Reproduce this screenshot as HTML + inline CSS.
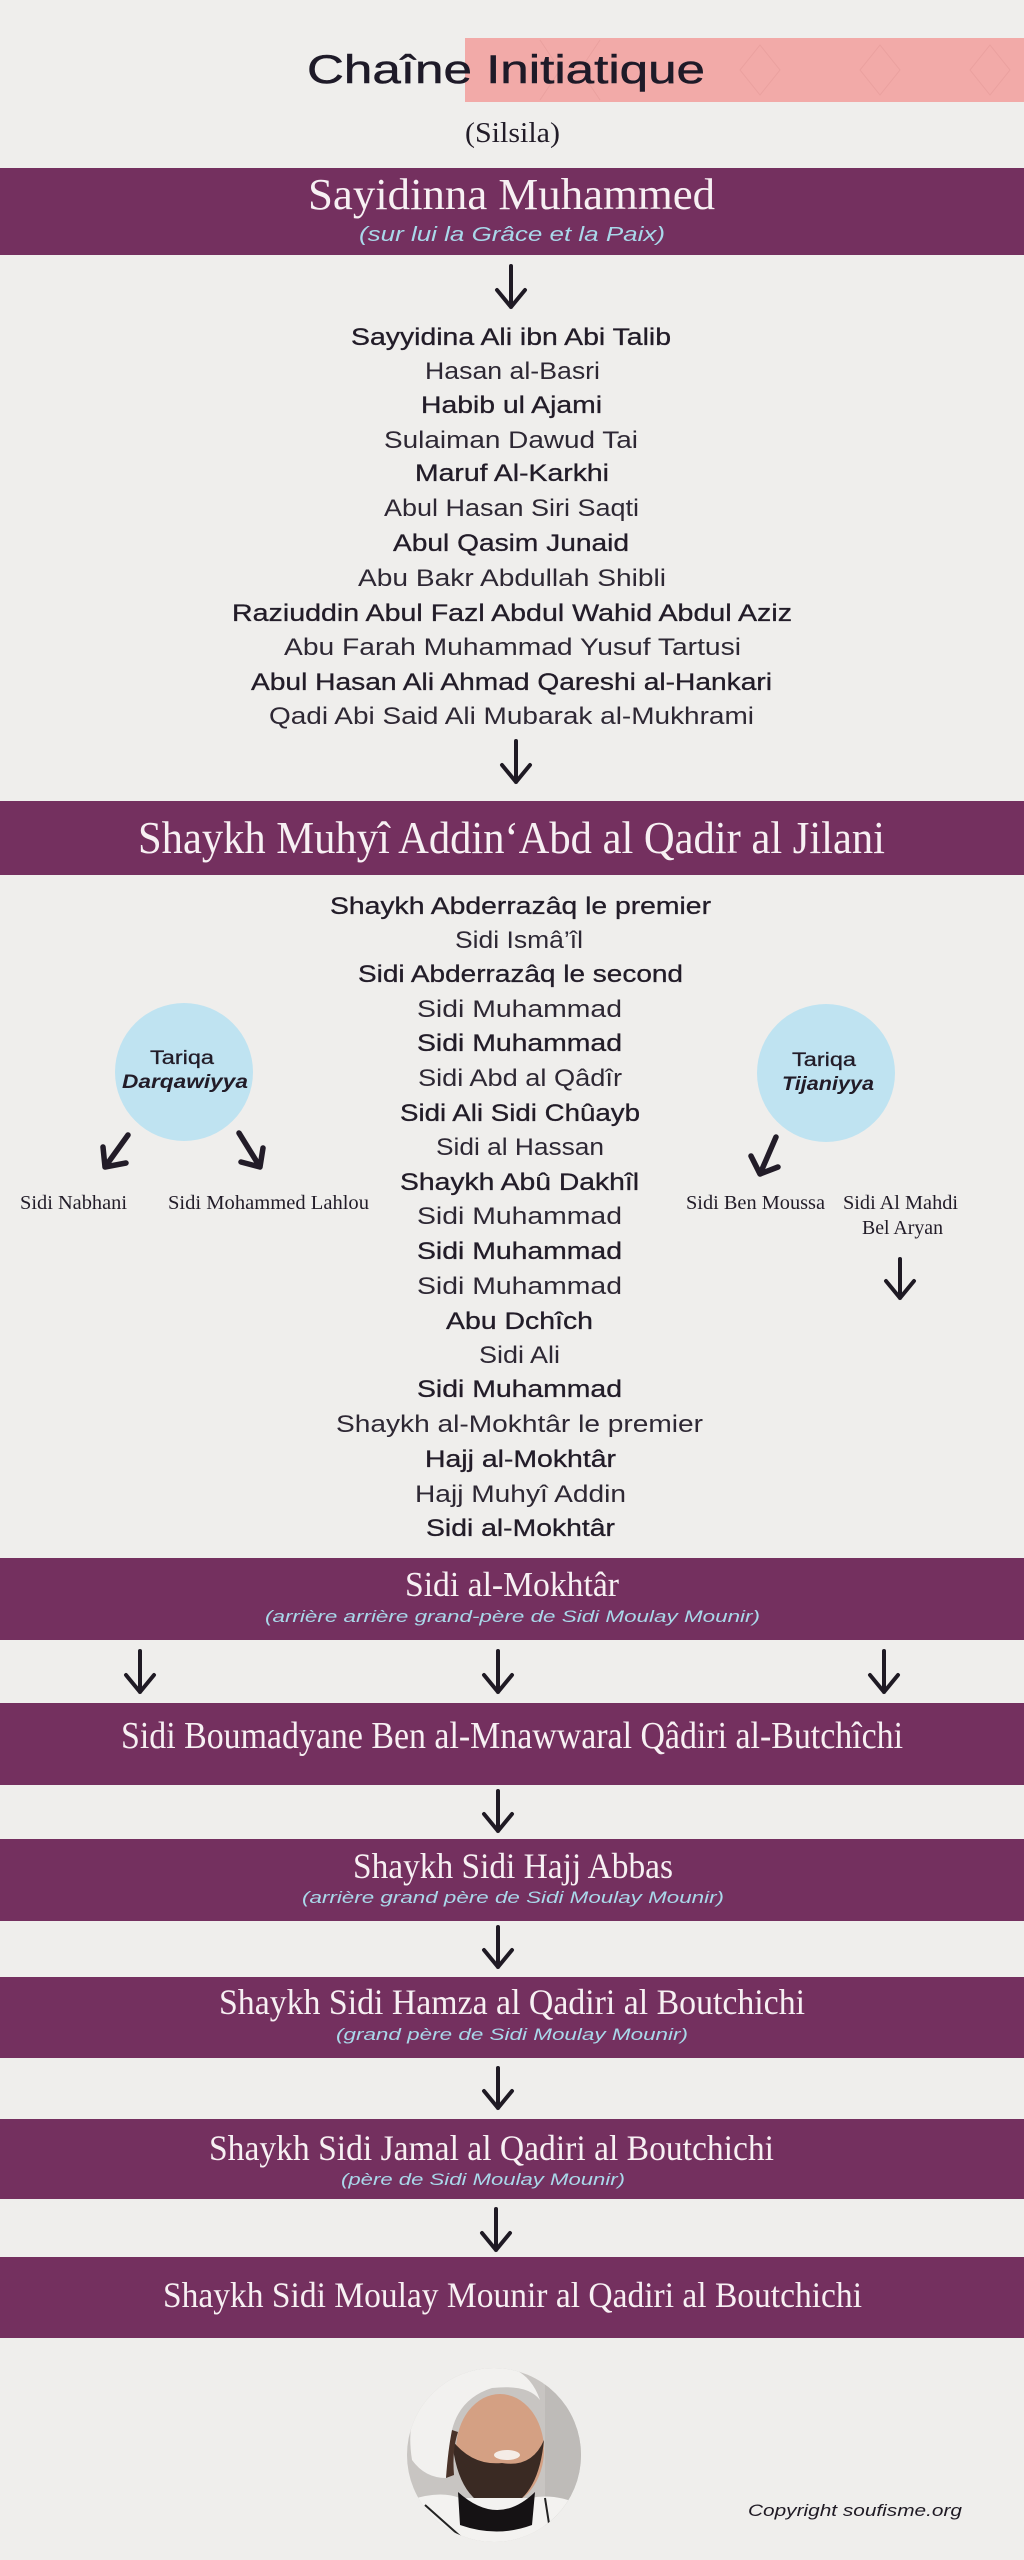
<!DOCTYPE html>
<html><head><meta charset="utf-8"><style>
html,body{margin:0;padding:0;background:#efeeec;}
svg{display:block;}
.s{font-family:"Liberation Sans",sans-serif;font-size:24px;fill:#221c28;}
.m{stroke:#221c28;stroke-width:0.3px;}
.l{fill:#2e2834;}
.t{font-family:"Liberation Serif",serif;fill:#f7f0f3;}
.sub{font-family:"Liberation Sans",sans-serif;font-style:italic;fill:#a9d8ea;}
.br{font-family:"Liberation Serif",serif;font-size:20px;fill:#221c28;}
.ar{fill:none;stroke:#1f1a24;stroke-width:4;stroke-linecap:round;stroke-linejoin:round;}
.ad{fill:none;stroke:#221c28;stroke-width:5.5;stroke-linecap:round;stroke-linejoin:round;}
</style></head><body>
<svg width="1024" height="2560" viewBox="0 0 1024 2560" xmlns="http://www.w3.org/2000/svg">
<rect width="1024" height="2560" fill="#efeeec"/>
<!-- title -->
<rect x="465" y="38" width="559" height="64" fill="#f2aaa8"/>
<g fill="none" stroke="#e79c9b" stroke-width="1" opacity="0.7">
<path d="M540 40 L560 70 L540 100 M600 40 L580 70 L600 100 M760 45 l20 25 l-20 25 l-20 -25z M880 45 l20 25 l-20 25 l-20 -25z M990 45 l20 25 l-20 25 l-20 -25z"/>
</g>
<text x="307" y="83" font-family="Liberation Sans,sans-serif" font-size="40" fill="#1e1a28" stroke="#1e1a28" stroke-width="0.5" textLength="398" lengthAdjust="spacingAndGlyphs">Chaîne Initiatique</text>
<text x="465" y="142" font-family="Liberation Serif,serif" font-size="29" fill="#221c28" textLength="95" lengthAdjust="spacingAndGlyphs">(Silsila)</text>

<!-- band 1 -->
<rect x="0" y="168" width="1024" height="87" fill="#74305f"/>
<text class="t" x="308" y="209" font-size="44" textLength="407" lengthAdjust="spacingAndGlyphs">Sayidinna Muhammed</text>
<text class="sub" x="359" y="241" font-size="20" textLength="306" lengthAdjust="spacingAndGlyphs">(sur lui la Grâce et la Paix)</text>

<path class="ar" d="M511 266 L511 307 M497 290 L511 307 L525 290"/>

<g class="s">
<text class="m" x="351" y="345" textLength="320" lengthAdjust="spacingAndGlyphs">Sayyidina Ali ibn Abi Talib</text>
<text class="l" x="425" y="379" textLength="175" lengthAdjust="spacingAndGlyphs">Hasan al-Basri</text>
<text class="m" x="421" y="413" textLength="181" lengthAdjust="spacingAndGlyphs">Habib ul Ajami</text>
<text class="l" x="384" y="448" textLength="254" lengthAdjust="spacingAndGlyphs">Sulaiman Dawud Tai</text>
<text class="m" x="415" y="481" textLength="194" lengthAdjust="spacingAndGlyphs">Maruf Al-Karkhi</text>
<text class="l" x="384" y="516" textLength="255" lengthAdjust="spacingAndGlyphs">Abul Hasan Siri Saqti</text>
<text class="m" x="393" y="551" textLength="236" lengthAdjust="spacingAndGlyphs">Abul Qasim Junaid</text>
<text class="l" x="358" y="586" textLength="308" lengthAdjust="spacingAndGlyphs">Abu Bakr Abdullah Shibli</text>
<text class="m" x="232" y="621" textLength="560" lengthAdjust="spacingAndGlyphs">Raziuddin Abul Fazl Abdul Wahid Abdul Aziz</text>
<text class="l" x="284" y="655" textLength="457" lengthAdjust="spacingAndGlyphs">Abu Farah Muhammad Yusuf Tartusi</text>
<text class="m" x="251" y="690" textLength="521" lengthAdjust="spacingAndGlyphs">Abul Hasan Ali Ahmad Qareshi al-Hankari</text>
<text class="l" x="269" y="724" textLength="485" lengthAdjust="spacingAndGlyphs">Qadi Abi Said Ali Mubarak al-Mukhrami</text>
</g>

<path class="ar" d="M516 741 L516 782 M502 765 L516 782 L530 765"/>

<!-- band 2 -->
<rect x="0" y="801" width="1024" height="74" fill="#74305f"/>
<text class="t" x="138" y="853" font-size="46" textLength="747" lengthAdjust="spacingAndGlyphs">Shaykh Muhyî Addin‘Abd al Qadir al Jilani</text>

<g class="s">
<text class="m" x="330" y="914" textLength="381" lengthAdjust="spacingAndGlyphs">Shaykh Abderrazâq le premier</text>
<text class="l" x="455" y="948" textLength="128" lengthAdjust="spacingAndGlyphs">Sidi Ismâ’îl</text>
<text class="m" x="358" y="982" textLength="325" lengthAdjust="spacingAndGlyphs">Sidi Abderrazâq le second</text>
<text class="l" x="417" y="1017" textLength="205" lengthAdjust="spacingAndGlyphs">Sidi Muhammad</text>
<text class="m" x="417" y="1051" textLength="205" lengthAdjust="spacingAndGlyphs">Sidi Muhammad</text>
<text class="l" x="418" y="1086" textLength="204" lengthAdjust="spacingAndGlyphs">Sidi Abd al Qâdîr</text>
<text class="m" x="400" y="1121" textLength="240" lengthAdjust="spacingAndGlyphs">Sidi Ali Sidi Chûayb</text>
<text class="l" x="436" y="1155" textLength="168" lengthAdjust="spacingAndGlyphs">Sidi al Hassan</text>
<text class="m" x="400" y="1190" textLength="239" lengthAdjust="spacingAndGlyphs">Shaykh Abû Dakhîl</text>
<text class="l" x="417" y="1224" textLength="205" lengthAdjust="spacingAndGlyphs">Sidi Muhammad</text>
<text class="m" x="417" y="1259" textLength="205" lengthAdjust="spacingAndGlyphs">Sidi Muhammad</text>
<text class="l" x="417" y="1294" textLength="205" lengthAdjust="spacingAndGlyphs">Sidi Muhammad</text>
<text class="m" x="446" y="1329" textLength="147" lengthAdjust="spacingAndGlyphs">Abu Dchîch</text>
<text class="l" x="479" y="1363" textLength="81" lengthAdjust="spacingAndGlyphs">Sidi Ali</text>
<text class="m" x="417" y="1397" textLength="205" lengthAdjust="spacingAndGlyphs">Sidi Muhammad</text>
<text class="l" x="336" y="1432" textLength="367" lengthAdjust="spacingAndGlyphs">Shaykh al-Mokhtâr le premier</text>
<text class="m" x="425" y="1467" textLength="191" lengthAdjust="spacingAndGlyphs">Hajj al-Mokhtâr</text>
<text class="l" x="415" y="1502" textLength="211" lengthAdjust="spacingAndGlyphs">Hajj Muhyî Addin</text>
<text class="m" x="426" y="1536" textLength="189" lengthAdjust="spacingAndGlyphs">Sidi al-Mokhtâr</text>
</g>

<!-- left circle -->
<circle cx="184" cy="1072" r="69" fill="#bfe3f1"/>
<text x="150" y="1064" font-family="Liberation Sans,sans-serif" font-size="19" fill="#221c28" stroke="#221c28" stroke-width="0.3" textLength="64" lengthAdjust="spacingAndGlyphs">Tariqa</text>
<text x="122" y="1088" font-family="Liberation Sans,sans-serif" font-size="19" font-style="italic" font-weight="bold" fill="#221c28" textLength="126" lengthAdjust="spacingAndGlyphs">Darqawiyya</text>
<path class="ad" d="M128 1135 L105 1167 M103 1147 L105 1167 L126 1163"/>
<path class="ad" d="M239 1133 L260 1167 M263 1148 L260 1167 L241 1162"/>
<text class="br" x="20" y="1209" textLength="107" lengthAdjust="spacingAndGlyphs">Sidi Nabhani</text>
<text class="br" x="168" y="1209" textLength="201" lengthAdjust="spacingAndGlyphs">Sidi Mohammed Lahlou</text>

<!-- right circle -->
<circle cx="826" cy="1073" r="69" fill="#bfe3f1"/>
<text x="792" y="1066" font-family="Liberation Sans,sans-serif" font-size="19" fill="#221c28" stroke="#221c28" stroke-width="0.3" textLength="64" lengthAdjust="spacingAndGlyphs">Tariqa</text>
<text x="782" y="1090" font-family="Liberation Sans,sans-serif" font-size="19" font-style="italic" font-weight="bold" fill="#221c28" textLength="92" lengthAdjust="spacingAndGlyphs">Tijaniyya</text>
<path class="ad" d="M776 1137 L760 1174 M751 1156 L760 1174 L778 1167"/>
<text class="br" x="686" y="1209" textLength="139" lengthAdjust="spacingAndGlyphs">Sidi Ben Moussa</text>
<text class="br" x="843" y="1209" textLength="115" lengthAdjust="spacingAndGlyphs">Sidi Al  Mahdi</text>
<text class="br" x="862" y="1234" textLength="81" lengthAdjust="spacingAndGlyphs">Bel Aryan</text>
<path class="ar" d="M900 1259 L900 1298 M886 1281 L900 1298 L914 1281"/>

<!-- band 3 -->
<rect x="0" y="1558" width="1024" height="82" fill="#74305f"/>
<text class="t" x="405" y="1596" font-size="35" textLength="214" lengthAdjust="spacingAndGlyphs">Sidi al-Mokhtâr</text>
<text class="sub" x="265" y="1622" font-size="17" textLength="495" lengthAdjust="spacingAndGlyphs">(arrière arrière grand-père de Sidi Moulay Mounir)</text>

<path class="ar" d="M140 1651 L140 1692 M126 1675 L140 1692 L154 1675"/>
<path class="ar" d="M498 1651 L498 1692 M484 1675 L498 1692 L512 1675"/>
<path class="ar" d="M884 1651 L884 1692 M870 1675 L884 1692 L898 1675"/>

<!-- band 4 -->
<rect x="0" y="1703" width="1024" height="82" fill="#74305f"/>
<text class="t" x="121" y="1748" font-size="38" textLength="782" lengthAdjust="spacingAndGlyphs">Sidi Boumadyane Ben al-Mnawwaral Qâdiri al-Butchîchi</text>

<path class="ar" d="M498 1791 L498 1831 M484 1814 L498 1831 L512 1814"/>

<!-- band 5 -->
<rect x="0" y="1839" width="1024" height="82" fill="#74305f"/>
<text class="t" x="353" y="1878" font-size="36" textLength="320" lengthAdjust="spacingAndGlyphs">Shaykh Sidi Hajj Abbas</text>
<text class="sub" x="302" y="1903" font-size="17" textLength="422" lengthAdjust="spacingAndGlyphs">(arrière grand père de Sidi Moulay Mounir)</text>

<path class="ar" d="M498 1927 L498 1967 M484 1950 L498 1967 L512 1950"/>

<!-- band 6 -->
<rect x="0" y="1977" width="1024" height="81" fill="#74305f"/>
<text class="t" x="219" y="2014" font-size="36" textLength="586" lengthAdjust="spacingAndGlyphs">Shaykh Sidi Hamza al Qadiri al Boutchichi</text>
<text class="sub" x="336" y="2040" font-size="17" textLength="352" lengthAdjust="spacingAndGlyphs">(grand père de Sidi Moulay Mounir)</text>

<path class="ar" d="M498 2068 L498 2108 M484 2091 L498 2108 L512 2091"/>

<!-- band 7 -->
<rect x="0" y="2119" width="1024" height="80" fill="#74305f"/>
<text class="t" x="209" y="2160" font-size="36" textLength="565" lengthAdjust="spacingAndGlyphs">Shaykh Sidi Jamal al Qadiri al Boutchichi</text>
<text class="sub" x="341" y="2185" font-size="17" textLength="284" lengthAdjust="spacingAndGlyphs">(père de Sidi Moulay Mounir)</text>

<path class="ar" d="M496 2209 L496 2250 M482 2233 L496 2250 L510 2233"/>

<!-- band 8 -->
<rect x="0" y="2257" width="1024" height="81" fill="#74305f"/>
<text class="t" x="163" y="2307" font-size="36" textLength="699" lengthAdjust="spacingAndGlyphs">Shaykh Sidi Moulay Mounir al Qadiri al Boutchichi</text>

<!-- photo -->
<defs><clipPath id="pc"><circle cx="494" cy="2455" r="87"/></clipPath></defs>
<g clip-path="url(#pc)">
<rect x="400" y="2360" width="190" height="190" fill="#c8c5c2"/>
<rect x="545" y="2360" width="45" height="190" fill="#bebbb8"/>
<ellipse cx="500" cy="2450" rx="44" ry="56" fill="#d4a083"/>
<path d="M452 2440 Q458 2503 498 2510 Q538 2503 544 2440 Q532 2468 502 2463 Q472 2466 452 2440z" fill="#3a2a23"/>
<ellipse cx="507" cy="2455" rx="13" ry="5" fill="#f4ece6"/>
<path d="M412 2460 Q400 2385 470 2366 Q525 2356 540 2400 Q528 2384 492 2388 Q460 2398 452 2430 L446 2478 Q425 2478 412 2460z" fill="#f2f1ef"/>
<path d="M452 2430 Q448 2450 446 2478 L454 2475 Q452 2450 458 2432z" fill="#4a3329"/>
<path d="M405 2560 L410 2500 Q440 2490 460 2498 L530 2498 Q560 2492 590 2510 L590 2560z" fill="#f3f2f0"/>
<path d="M458 2492 Q498 2528 535 2492 L532 2525 Q497 2538 460 2525z" fill="#151214"/>
<path d="M425 2505 L470 2545 M545 2498 L550 2530" stroke="#222" stroke-width="2" fill="none"/>
</g>

<text x="748" y="2516" font-family="Liberation Sans,sans-serif" font-size="17" font-style="italic" fill="#1f1a24" textLength="214" lengthAdjust="spacingAndGlyphs">Copyright soufisme.org</text>
</svg>
</body></html>
